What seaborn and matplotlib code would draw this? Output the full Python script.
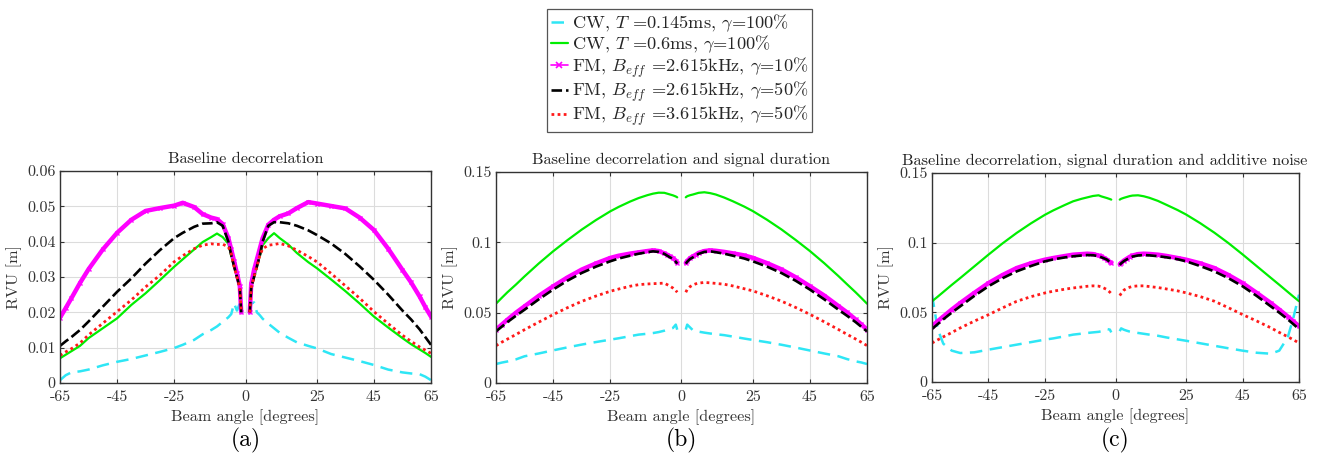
import numpy as np
import pandas as pd
import matplotlib
matplotlib.use("Agg")
import matplotlib.pyplot as plt
from matplotlib.lines import Line2D
import seaborn as sns

# ---------------- data ----------------
ANG_L = [-65, -63, -61, -58, -55, -50, -45, -40, -35, -30, -25, -22, -18, -15, -12, -10, -8, -6, -5, -4, -3, -2, -1.5]
ANG_R = [1.5, 2, 3, 4, 5, 6, 8, 10, 12, 15, 18, 22, 25, 30, 35, 40, 45, 50, 55, 58, 61, 63, 65]

SERIES = ["CW, $T$ =0.145ms, $\\gamma$=100%",
          "CW, $T$ =0.6ms, $\\gamma$=100%",
          "FM, $B_{eff}$ =2.615kHz, $\\gamma$=10%",
          "FM, $B_{eff}$ =2.615kHz, $\\gamma$=50%",
          "FM, $B_{eff}$ =3.615kHz, $\\gamma$=50%"]

# Panel (a): baseline decorrelation
a_cyan_L = [0.0008, 0.0022, 0.0030, 0.0033, 0.0038, 0.0050, 0.0060, 0.0068, 0.0078, 0.0088, 0.0099, 0.0108, 0.0122, 0.0138, 0.0150, 0.0160, 0.0173, 0.0186, 0.0195, 0.0225, 0.0205, 0.0225, 0.0200]
a_cyan_R = [0.0200, 0.0225, 0.0228, 0.0200, 0.0192, 0.0182, 0.0168, 0.0155, 0.0142, 0.0128, 0.0115, 0.0105, 0.0098, 0.0082, 0.0072, 0.0062, 0.0051, 0.0038, 0.0030, 0.0027, 0.0025, 0.0018, 0.0008]
a_green_L = [0.0070, 0.0080, 0.0090, 0.0105, 0.0127, 0.0155, 0.0183, 0.0221, 0.0254, 0.0291, 0.0329, 0.0350, 0.0378, 0.0399, 0.0413, 0.0423, 0.0413, 0.0394, 0.0360, 0.0330, 0.0300, 0.0270, 0.0200]
a_green_R = [0.0200, 0.0270, 0.0300, 0.0330, 0.0360, 0.0390, 0.0410, 0.0424, 0.0410, 0.0392, 0.0368, 0.0342, 0.0325, 0.0293, 0.0260, 0.0225, 0.0188, 0.0157, 0.0127, 0.0110, 0.0095, 0.0085, 0.0074]
a_mag_L = [0.0185, 0.0212, 0.0240, 0.0283, 0.0322, 0.0378, 0.0425, 0.0462, 0.0487, 0.0495, 0.0502, 0.0510, 0.0498, 0.0478, 0.0468, 0.0464, 0.0450, 0.0410, 0.0378, 0.0345, 0.0310, 0.0275, 0.0200]
a_mag_R = [0.0200, 0.0280, 0.0320, 0.0350, 0.0380, 0.0410, 0.0448, 0.0462, 0.0472, 0.0480, 0.0495, 0.0512, 0.0508, 0.0501, 0.0494, 0.0468, 0.0433, 0.0380, 0.0320, 0.0285, 0.0245, 0.0215, 0.0188]
a_black_L = [0.0105, 0.0118, 0.0130, 0.0150, 0.0174, 0.0216, 0.0258, 0.0296, 0.0338, 0.0376, 0.0410, 0.0425, 0.0442, 0.0451, 0.0452, 0.0455, 0.0445, 0.0400, 0.0362, 0.0330, 0.0300, 0.0270, 0.0200]
a_black_R = [0.0200, 0.0270, 0.0300, 0.0330, 0.0360, 0.0400, 0.0445, 0.0455, 0.0455, 0.0452, 0.0445, 0.0432, 0.0419, 0.0395, 0.0365, 0.0330, 0.0292, 0.0250, 0.0205, 0.0180, 0.0152, 0.0130, 0.0108]
a_red_L = [0.0078, 0.0088, 0.0097, 0.0113, 0.0136, 0.0169, 0.0202, 0.0235, 0.0272, 0.0305, 0.0343, 0.0360, 0.0380, 0.0390, 0.0394, 0.0392, 0.0393, 0.0385, 0.0366, 0.0330, 0.0300, 0.0270, 0.0200]
a_red_R = [0.0200, 0.0270, 0.0300, 0.0330, 0.0360, 0.0380, 0.0390, 0.0392, 0.0395, 0.0388, 0.0376, 0.0358, 0.0343, 0.0310, 0.0275, 0.0240, 0.0202, 0.0168, 0.0135, 0.0118, 0.0102, 0.0093, 0.0084]

# Panel (b): baseline decorrelation and signal duration
b_cyan_L = [0.0135, 0.0145, 0.0153, 0.0168, 0.0190, 0.0210, 0.0232, 0.0253, 0.0273, 0.0291, 0.0308, 0.0318, 0.0333, 0.0344, 0.0350, 0.0355, 0.0362, 0.0372, 0.0379, 0.0385, 0.0391, 0.0415, 0.0379]
b_cyan_R = [0.0380, 0.0415, 0.0395, 0.0375, 0.0370, 0.0365, 0.0358, 0.0352, 0.0347, 0.0340, 0.0330, 0.0316, 0.0306, 0.0290, 0.0272, 0.0252, 0.0231, 0.0210, 0.0190, 0.0170, 0.0154, 0.0146, 0.0135]
b_green_L = [0.0564, 0.0605, 0.0645, 0.0700, 0.0758, 0.0850, 0.0936, 0.1015, 0.1090, 0.1158, 0.1220, 0.1252, 0.1290, 0.1315, 0.1335, 0.1346, 0.1353, 0.1352, 0.1346, 0.1340, 0.1334, 0.1326, 0.1320]
b_green_R = [0.1320, 0.1328, 0.1335, 0.1340, 0.1346, 0.1352, 0.1356, 0.1350, 0.1340, 0.1318, 0.1292, 0.1254, 0.1222, 0.1160, 0.1092, 0.1017, 0.0938, 0.0852, 0.0760, 0.0702, 0.0645, 0.0605, 0.0564]
b_mag_L = [0.0379, 0.0415, 0.0450, 0.0500, 0.0545, 0.0620, 0.0687, 0.0750, 0.0806, 0.0850, 0.0889, 0.0905, 0.0920, 0.0929, 0.0938, 0.0943, 0.0938, 0.0922, 0.0912, 0.0900, 0.0889, 0.0870, 0.0853]
b_mag_R = [0.0853, 0.0868, 0.0888, 0.0900, 0.0912, 0.0925, 0.0938, 0.0943, 0.0940, 0.0932, 0.0922, 0.0907, 0.0890, 0.0852, 0.0808, 0.0752, 0.0688, 0.0622, 0.0547, 0.0502, 0.0452, 0.0417, 0.0380]
b_black_L = [0.0367, 0.0400, 0.0433, 0.0478, 0.0521, 0.0595, 0.0664, 0.0727, 0.0782, 0.0827, 0.0865, 0.0885, 0.0905, 0.0919, 0.0930, 0.0936, 0.0932, 0.0918, 0.0905, 0.0893, 0.0882, 0.0862, 0.0848]
b_black_R = [0.0848, 0.0862, 0.0882, 0.0893, 0.0905, 0.0918, 0.0932, 0.0936, 0.0930, 0.0919, 0.0905, 0.0885, 0.0865, 0.0827, 0.0782, 0.0727, 0.0664, 0.0595, 0.0521, 0.0478, 0.0433, 0.0400, 0.0367]
b_red_L = [0.0265, 0.0290, 0.0312, 0.0345, 0.0379, 0.0433, 0.0486, 0.0535, 0.0580, 0.0618, 0.0652, 0.0668, 0.0688, 0.0699, 0.0704, 0.0706, 0.0708, 0.0710, 0.0699, 0.0688, 0.0675, 0.0658, 0.0645]
b_red_R = [0.0645, 0.0665, 0.0685, 0.0697, 0.0705, 0.0710, 0.0715, 0.0712, 0.0708, 0.0702, 0.0690, 0.0670, 0.0655, 0.0620, 0.0582, 0.0537, 0.0488, 0.0435, 0.0380, 0.0346, 0.0313, 0.0290, 0.0266]

# Panel (c): baseline decorrelation, signal duration and additive noise
c_cyan_L = [0.0627, 0.0380, 0.0275, 0.0225, 0.0208, 0.0213, 0.0232, 0.0250, 0.0268, 0.0286, 0.0304, 0.0313, 0.0328, 0.0340, 0.0347, 0.0352, 0.0356, 0.0360, 0.0364, 0.0370, 0.0380, 0.0376, 0.0356]
c_cyan_R = [0.0365, 0.0385, 0.0375, 0.0368, 0.0362, 0.0358, 0.0352, 0.0346, 0.0340, 0.0332, 0.0320, 0.0306, 0.0296, 0.0278, 0.0260, 0.0242, 0.0225, 0.0210, 0.0203, 0.0225, 0.0320, 0.0460, 0.0627]
c_green_L = [0.0579, 0.0612, 0.0646, 0.0697, 0.0746, 0.0830, 0.0914, 0.0995, 0.1070, 0.1138, 0.1200, 0.1232, 0.1270, 0.1297, 0.1315, 0.1325, 0.1335, 0.1340, 0.1332, 0.1326, 0.1320, 0.1313, 0.1309]
c_green_R = [0.1309, 0.1315, 0.1322, 0.1328, 0.1334, 0.1338, 0.1340, 0.1333, 0.1322, 0.1300, 0.1272, 0.1234, 0.1202, 0.1140, 0.1072, 0.0997, 0.0916, 0.0832, 0.0748, 0.0698, 0.0647, 0.0613, 0.0580]
c_mag_L = [0.0400, 0.0436, 0.0470, 0.0520, 0.0567, 0.0640, 0.0710, 0.0768, 0.0818, 0.0852, 0.0878, 0.0890, 0.0904, 0.0914, 0.0918, 0.0921, 0.0918, 0.0908, 0.0902, 0.0890, 0.0878, 0.0862, 0.0854]
c_mag_R = [0.0845, 0.0855, 0.0872, 0.0885, 0.0898, 0.0908, 0.0918, 0.0921, 0.0919, 0.0914, 0.0905, 0.0890, 0.0878, 0.0852, 0.0818, 0.0768, 0.0710, 0.0640, 0.0567, 0.0520, 0.0470, 0.0436, 0.0400]
c_black_L = [0.0380, 0.0415, 0.0450, 0.0498, 0.0543, 0.0618, 0.0687, 0.0745, 0.0794, 0.0832, 0.0866, 0.0880, 0.0894, 0.0902, 0.0908, 0.0911, 0.0910, 0.0903, 0.0895, 0.0887, 0.0878, 0.0860, 0.0847]
c_black_R = [0.0840, 0.0852, 0.0868, 0.0880, 0.0890, 0.0900, 0.0908, 0.0911, 0.0909, 0.0903, 0.0895, 0.0881, 0.0866, 0.0832, 0.0794, 0.0745, 0.0687, 0.0618, 0.0543, 0.0498, 0.0450, 0.0415, 0.0380]
c_red_L = [0.0280, 0.0302, 0.0324, 0.0355, 0.0388, 0.0437, 0.0483, 0.0532, 0.0579, 0.0612, 0.0639, 0.0652, 0.0666, 0.0675, 0.0682, 0.0687, 0.0690, 0.0688, 0.0682, 0.0673, 0.0663, 0.0645, 0.0634]
c_red_R = [0.0620, 0.0635, 0.0660, 0.0672, 0.0680, 0.0686, 0.0690, 0.0690, 0.0685, 0.0678, 0.0668, 0.0654, 0.0640, 0.0613, 0.0580, 0.0533, 0.0484, 0.0438, 0.0389, 0.0356, 0.0325, 0.0303, 0.0280]

PANELS = [
    ("Baseline decorrelation", "(a)", [0, 0.01, 0.02, 0.03, 0.04, 0.05, 0.06],
     ["0", "0.01", "0.02", "0.03", "0.04", "0.05", "0.06"], 0.06, 0.5,
     [(a_cyan_L, a_cyan_R), (a_green_L, a_green_R), (a_mag_L, a_mag_R), (a_black_L, a_black_R), (a_red_L, a_red_R)]),
    ("Baseline decorrelation and signal duration", "(b)", [0, 0.05, 0.1, 0.15],
     ["0", "0.05", "0.1", "0.15"], 0.15, 0.5,
     [(b_cyan_L, b_cyan_R), (b_green_L, b_green_R), (b_mag_L, b_mag_R), (b_black_L, b_black_R), (b_red_L, b_red_R)]),
    ("Baseline decorrelation, signal duration and additive noise", "(c)", [0, 0.05, 0.1, 0.15],
     ["0", "0.05", "0.1", "0.15"], 0.15, 0.47,
     [(c_cyan_L, c_cyan_R), (c_green_L, c_green_R), (c_mag_L, c_mag_R), (c_black_L, c_black_R), (c_red_L, c_red_R)]),
]

X_TICKS = [-65, -45, -25, 0, 25, 45, 65]
X_TICKLABELS = ["-65", "-45", "-25", "0", "25", "45", "65"]

# ---------------- style ----------------
sns.set_style("ticks")
plt.rcParams["font.family"] = ["cmr10", "DejaVu Serif"]
plt.rcParams["mathtext.fontset"] = "cm"
plt.rcParams["axes.unicode_minus"] = False
plt.rcParams["axes.formatter.use_mathtext"] = True

MAG = "#ff00ff"
STYLES = [
    dict(color="#2ee6f5", lw=1.8, dashes=(5, 3)),
    dict(color="#00ee00", lw=1.6),
    dict(color=MAG, lw=3.2, marker="x", markersize=3.0, markeredgewidth=1.0,
         markeredgecolor=MAG, markerfacecolor=MAG),
    dict(color="black", lw=1.9, dashes=(4, 1.5)),
    dict(color="#ff1a1a", lw=2.0, dashes=(1, 1.2)),
]

fig = plt.figure(figsize=(13.2, 4.55), dpi=100)
positions = [
    [60 / 1320, 1 - 383 / 455, 371 / 1320, 212 / 455],
    [496 / 1320, 1 - 383 / 455, 371 / 1320, 211 / 455],
    [932 / 1320, 1 - 382 / 455, 367 / 1320, 209 / 455],
]
LABEL_FS = 11.7
TICK_FS = 11.5

for (title, tag, yt, ytl, ymax, tx, series), pos in zip(PANELS, positions):
    ax = fig.add_axes(pos)
    for i, (vl, vr) in enumerate(series):
        df = pd.DataFrame({
            "angle": ANG_L + ANG_R,
            "rvu": vl + vr,
            "side": ["L"] * len(ANG_L) + ["R"] * len(ANG_R),
        })
        st = dict(STYLES[i])
        dashes = st.pop("dashes", None)
        lines_before = len(ax.lines)
        sns.lineplot(data=df, x="angle", y="rvu", units="side", estimator=None,
                     ax=ax, legend=False, sort=False, **st)
        if dashes is not None:
            for ln in ax.lines[lines_before:]:
                ln.set_dashes(dashes)
                ln.set_dash_capstyle("butt")
    ax.set_xlim(-65, 65)
    ax.set_ylim(0, ymax)
    ax.set_xticks(X_TICKS)
    ax.set_xticklabels(X_TICKLABELS)
    ax.set_yticks(yt)
    ax.set_yticklabels(ytl)
    ax.grid(True, color="#dcdcdc", lw=0.8)
    ax.set_axisbelow(True)
    for s in ax.spines.values():
        s.set_color("#333333")
        s.set_linewidth(1.0)
        s.set_visible(True)
    ax.tick_params(direction="in", length=3, width=0.8, colors="#333333",
                   labelsize=TICK_FS, labelcolor="#333333", top=True, right=True)
    ax.tick_params(axis="x", pad=5)
    ax.tick_params(axis="y", pad=3)
    ax.set_xlabel("Beam angle [degrees]", fontsize=LABEL_FS, color="#333333", labelpad=4)
    ax.set_ylabel("RVU [m]", fontsize=LABEL_FS, color="#333333", labelpad=4)
    ax.set_title(title, fontsize=LABEL_FS, color="#222222", pad=6, x=tx)
    bb = ax.get_position()
    fig.text(bb.x0 + bb.width / 2, 1 - 440 / 455, tag, ha="center", va="center",
             fontsize=17, color="black")

handles = []
for i, st in enumerate(STYLES):
    st = dict(st)
    dashes = st.pop("dashes", None)
    if i == 2:
        st["lw"] = 1.2
        st["markersize"] = 4
        st["markeredgewidth"] = 1.2
    h = Line2D([0], [0], **st)
    if dashes is not None:
        h.set_dashes(dashes)
    handles.append(h)

leg = fig.legend(handles, SERIES, loc="upper center", bbox_to_anchor=(0.515, 0.981),
                 fontsize=13.2, frameon=True, fancybox=False, edgecolor="#555555",
                 framealpha=1, handlelength=0.9, handletextpad=0.25, labelspacing=0.0,
                 borderpad=0.2, borderaxespad=0)
leg.get_frame().set_linewidth(0.9)

fig.savefig("out.png", dpi=100)
